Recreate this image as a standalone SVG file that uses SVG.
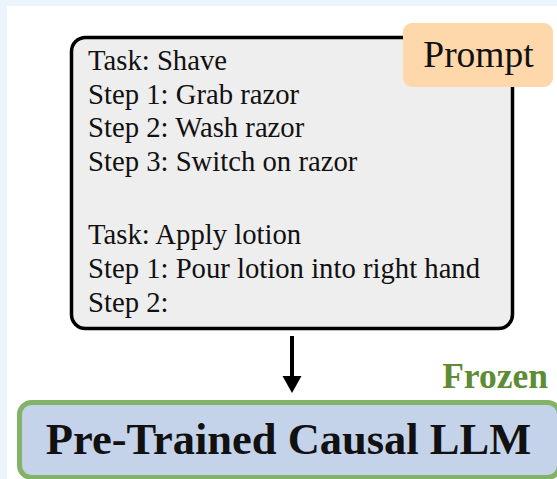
<svg xmlns="http://www.w3.org/2000/svg" width="557" height="479" viewBox="0 0 557 479">
<style>
.t{font-family:"Liberation Serif","Times New Roman",serif;font-size:28.7px;fill:#111}
.b{font-family:"Liberation Serif","Times New Roman",serif;font-weight:bold}
</style>
<rect x="0" y="0" width="557" height="479" fill="#ecf5fd"/>
<rect x="7" y="6" width="550" height="473" fill="#ffffff"/>
<g id="prompt-box">
<rect x="71.5" y="37.5" width="441" height="291" rx="14" fill="#eeeeee" stroke="#000" stroke-width="3.5"/>
<text class="t" x="88" y="69.5">Task: Shave</text>
<text class="t" x="88" y="103.5">Step 1: Grab razor</text>
<text class="t" x="88" y="137">Step 2: Wash razor</text>
<text class="t" x="88" y="170.5">Step 3: Switch on razor</text>
<text class="t" x="88" y="244">Task: Apply lotion</text>
<text class="t" x="88" y="278">Step 1: Pour lotion into right hand</text>
<text class="t" x="88" y="312">Step 2:</text>
</g>
<g id="prompt-label">
<rect x="403" y="23" width="150" height="64" rx="9" fill="#fed8aa"/>
<text x="478.5" y="67" text-anchor="middle" style="font-family:'Liberation Serif','Times New Roman',serif;font-size:37.5px;fill:#111">Prompt</text>
</g>
<g id="connectors">
<path d="M292,336 V376" stroke="#000" stroke-width="4" fill="none"/>
<path d="M282.5,376 L301.5,376 L292,393 Z" fill="#000"/>
</g>
<g id="frozen-label">
<text class="b" x="548" y="388" text-anchor="end" style="font-size:35.5px;fill:#5e8c35">Frozen</text>
</g>
<g id="llm">
<rect x="19.5" y="402.5" width="540" height="75" rx="12" fill="#c5d3ea" stroke="#82b366" stroke-width="5"/>
<text class="b" x="288.5" y="454" text-anchor="middle" style="font-size:44.5px;fill:#111">Pre-Trained Causal LLM</text>
</g>
</svg>
